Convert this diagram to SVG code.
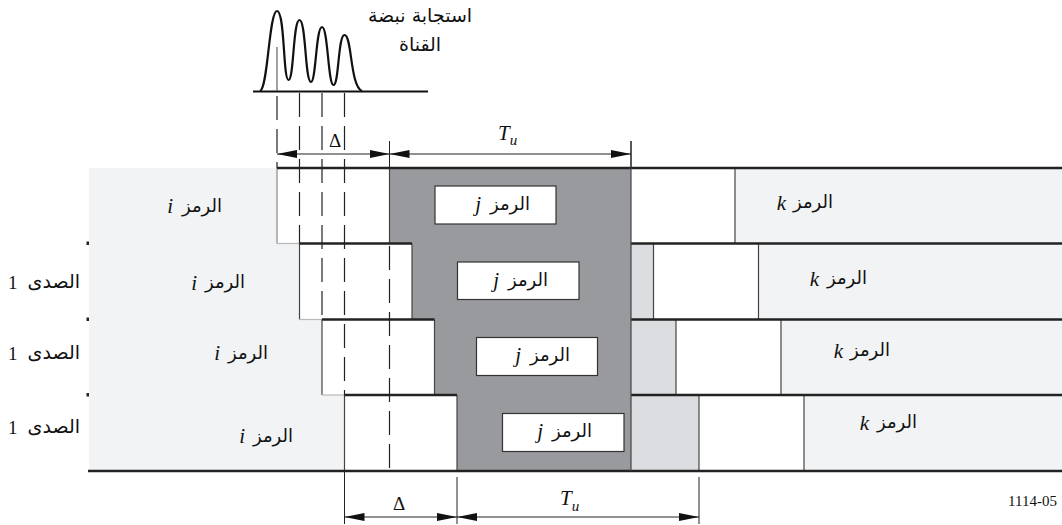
<svg xmlns="http://www.w3.org/2000/svg" width="1062" height="525" viewBox="0 0 1062 525">
<style>
.ar{font-family:"DejaVu Sans",sans-serif;font-size:18px;fill:#111}
.ar2{font-family:"DejaVu Sans",sans-serif;font-size:19px;fill:#111}
.lat{font-family:"Liberation Serif",serif;font-style:italic;font-size:21px;fill:#111}
.num{font-family:"Liberation Serif",serif;font-size:19px;fill:#111}
.thick{stroke:#222;stroke-width:2.5;fill:none}
.thin{stroke:#444;stroke-width:1.2;fill:none}
.faint{stroke:#b8b8b8;stroke-width:1.2;fill:none}
.dash{stroke:#222;stroke-width:1.2;fill:none;stroke-dasharray:24 9}
.dim{stroke:#222;stroke-width:1;fill:none}
</style>
<defs>
<marker id="arr" markerUnits="userSpaceOnUse" markerWidth="21" markerHeight="8" refX="20" refY="4" orient="auto-start-reverse">
<path d="M0,0 L20,4 L0,8 Z" fill="#111"/>
</marker>
</defs>
<rect width="1062" height="525" fill="#fff"/>

<g id="pulse">
<line x1="253" y1="91.5" x2="428" y2="91.5" stroke="#111" stroke-width="2"/>
<path d="M260,91 C268,89 269,11 277,11 C285,11 283,80 288.5,80 C294,80 293,20 299.5,20 C306,20 305,82 311,82 C316,82 316,27 322,27 C328,27 328,85 333.5,85 C339,85 338,35 344.5,35 C352,35 350,86 362,91" fill="none" stroke="#111" stroke-width="2.2"/>
<line x1="277" y1="47" x2="277" y2="91" stroke="#444" stroke-width="1"/>
<text class="ar2" x="420" y="22" text-anchor="middle">استجابة نبضة</text>
<text class="ar2" x="420" y="51" text-anchor="middle">القناة</text>
</g>

<g id="backgrounds">
<rect x="89" y="168" width="542" height="303" fill="#f2f3f5"/>
<rect x="631" y="168" width="431" height="303" fill="#f2f3f5"/>
<rect x="631" y="243.5" width="68" height="227.5" fill="#dcdde0"/>
<polygon points="389.5,168 631,168 631,471 457,471 457,395 434.5,395 434.5,319.5 412,319.5 412,243.5 389.5,243.5" fill="#999a9e"/>
<rect x="86.5" y="241.5" width="2.5" height="3.5" fill="#222"/>
<rect x="86.5" y="317.5" width="2.5" height="3.5" fill="#222"/>
<rect x="86.5" y="393" width="2.5" height="3.5" fill="#222"/>
</g>

<g id="row-main">
<rect x="277" y="168" width="112.5" height="75.5" fill="#fff"/>
<rect x="631" y="168" width="104" height="75.5" fill="#fff"/>
<line x1="277" y1="168" x2="277" y2="243.5" stroke="#8a8a8a" stroke-width="1.2"/>
<line class="faint" x1="277" y1="243.5" x2="299.5" y2="243.5"/>
<line class="thin" x1="389.5" y1="168" x2="389.5" y2="243.5"/>
<line class="thin" x1="735" y1="168" x2="735" y2="243.5"/>
<rect x="435" y="186" width="121" height="38" fill="#fff" stroke="#333" stroke-width="1.2"/>
<text class="ar" x="222" y="212" text-anchor="end">الرمز</text>
<text class="lat" x="173" y="213" text-anchor="end">i</text>
<text class="ar" x="530" y="210" text-anchor="end">الرمز</text>
<text class="lat" x="481" y="211" text-anchor="end">j</text>
<text class="ar" x="833" y="208" text-anchor="end">الرمز</text>
<text class="lat" x="786" y="210" text-anchor="end">k</text>
</g>

<g id="echo-1">
<rect x="299.5" y="243.5" width="112.5" height="76" fill="#fff"/>
<rect x="653.5" y="243.5" width="105" height="76" fill="#fff"/>
<line class="thin" x1="299.5" y1="243.5" x2="299.5" y2="319.5"/>
<line class="faint" x1="299.5" y1="319.5" x2="322" y2="319.5"/>
<line class="thin" x1="412" y1="243.5" x2="412" y2="319.5"/>
<line class="thin" x1="653.5" y1="243.5" x2="653.5" y2="319.5"/>
<line class="thin" x1="758.5" y1="243.5" x2="758.5" y2="319.5"/>
<rect x="457.5" y="262" width="121.5" height="37.5" fill="#fff" stroke="#333" stroke-width="1.2"/>
<text class="ar2" x="80" y="288" text-anchor="end">الصدى</text>
<text class="num" x="8" y="289">1</text>
<text class="ar" x="245" y="288" text-anchor="end">الرمز</text>
<text class="lat" x="197" y="290" text-anchor="end">i</text>
<text class="ar" x="548" y="286" text-anchor="end">الرمز</text>
<text class="lat" x="499" y="287" text-anchor="end">j</text>
<text class="ar" x="867" y="284" text-anchor="end">الرمز</text>
<text class="lat" x="819" y="286" text-anchor="end">k</text>
</g>

<g id="echo-2">
<rect x="322" y="319.5" width="112.5" height="75.5" fill="#fff"/>
<rect x="676" y="319.5" width="105" height="75.5" fill="#fff"/>
<line class="thin" x1="322" y1="319.5" x2="322" y2="395"/>
<line class="faint" x1="322" y1="395" x2="344.5" y2="395"/>
<line class="thin" x1="434.5" y1="319.5" x2="434.5" y2="395"/>
<line class="thin" x1="676" y1="319.5" x2="676" y2="395"/>
<line class="thin" x1="781" y1="319.5" x2="781" y2="395"/>
<rect x="476.5" y="337.5" width="121" height="38" fill="#fff" stroke="#333" stroke-width="1.2"/>
<text class="ar2" x="80" y="359" text-anchor="end">الصدى</text>
<text class="num" x="8" y="360">1</text>
<text class="ar" x="268" y="359" text-anchor="end">الرمز</text>
<text class="lat" x="220" y="360" text-anchor="end">i</text>
<text class="ar" x="570" y="361" text-anchor="end">الرمز</text>
<text class="lat" x="521" y="362" text-anchor="end">j</text>
<text class="ar" x="890" y="356" text-anchor="end">الرمز</text>
<text class="lat" x="843" y="358" text-anchor="end">k</text>
</g>

<g id="echo-3">
<rect x="344.5" y="395" width="112.5" height="76" fill="#fff"/>
<rect x="699" y="395" width="105" height="76" fill="#fff"/>
<line class="thin" x1="344.5" y1="395" x2="344.5" y2="471"/>
<line class="thin" x1="457" y1="395" x2="457" y2="471"/>
<line class="thin" x1="699" y1="395" x2="699" y2="471"/>
<line class="thin" x1="804" y1="395" x2="804" y2="471"/>
<rect x="502.5" y="413.5" width="121.5" height="38" fill="#fff" stroke="#333" stroke-width="1.2"/>
<text class="ar2" x="80" y="433" text-anchor="end">الصدى</text>
<text class="num" x="8" y="434">1</text>
<text class="ar" x="293" y="442" text-anchor="end">الرمز</text>
<text class="lat" x="245" y="443" text-anchor="end">i</text>
<text class="ar" x="592" y="437" text-anchor="end">الرمز</text>
<text class="lat" x="543" y="438" text-anchor="end">j</text>
<text class="ar" x="917" y="428" text-anchor="end">الرمز</text>
<text class="lat" x="869" y="430" text-anchor="end">k</text>
</g>

<g id="row-lines">
<line class="thick" x1="277" y1="168" x2="1062" y2="168"/>
<line class="thick" x1="299.5" y1="243.5" x2="412" y2="243.5"/>
<line class="thick" x1="631" y1="243.5" x2="1062" y2="243.5"/>
<line class="thick" x1="322" y1="319.5" x2="434.5" y2="319.5"/>
<line class="thick" x1="631" y1="319.5" x2="1062" y2="319.5"/>
<line class="thick" x1="344.5" y1="395" x2="457" y2="395"/>
<line class="thick" x1="631" y1="395" x2="1062" y2="395"/>
<line class="thick" x1="88" y1="471" x2="1062" y2="471"/>
<line class="thin" x1="631" y1="141" x2="631" y2="471"/>
</g>

<g id="connectors">
<line class="dash" x1="277" y1="96" x2="277" y2="168"/>
<line class="dash" x1="299.5" y1="93" x2="299.5" y2="243.5"/>
<line class="dash" x1="322" y1="93" x2="322" y2="319.5"/>
<line class="dash" x1="344.5" y1="93" x2="344.5" y2="395"/>
<line class="dash" x1="389.5" y1="246" x2="389.5" y2="471"/>
<line class="dim" x1="389.5" y1="141" x2="389.5" y2="168"/>
<line class="dim" x1="631" y1="141" x2="631" y2="168"/>
<line class="dim" x1="277" y1="154" x2="389.5" y2="154" marker-start="url(#arr)" marker-end="url(#arr)"/>
<line class="dim" x1="389.5" y1="154" x2="631" y2="154" marker-start="url(#arr)" marker-end="url(#arr)"/>
<line class="dim" x1="344.5" y1="472" x2="344.5" y2="524"/>
<line class="dim" x1="457" y1="477" x2="457" y2="524"/>
<line class="dim" x1="699" y1="477" x2="699" y2="524"/>
<line class="dim" x1="344.5" y1="517" x2="457" y2="517" marker-start="url(#arr)" marker-end="url(#arr)"/>
<line class="dim" x1="457" y1="517" x2="699" y2="517" marker-start="url(#arr)" marker-end="url(#arr)"/>
</g>

<g id="dimension-labels">
<text x="335" y="147" text-anchor="middle" font-family="Liberation Serif,serif" font-size="19" fill="#111">Δ</text>
<text x="399" y="510" text-anchor="middle" font-family="Liberation Serif,serif" font-size="19" fill="#111">Δ</text>
<text x="498" y="140" font-family="Liberation Serif,serif" font-style="italic" font-size="21" fill="#111">T<tspan font-size="15" dy="5">u</tspan></text>
<text x="560" y="505" font-family="Liberation Serif,serif" font-style="italic" font-size="21" fill="#111">T<tspan font-size="15" dy="6">u</tspan></text>
<text x="1057" y="506" text-anchor="end" font-family="Liberation Serif,serif" font-size="15" fill="#111">1114-05</text>
</g>
</svg>
